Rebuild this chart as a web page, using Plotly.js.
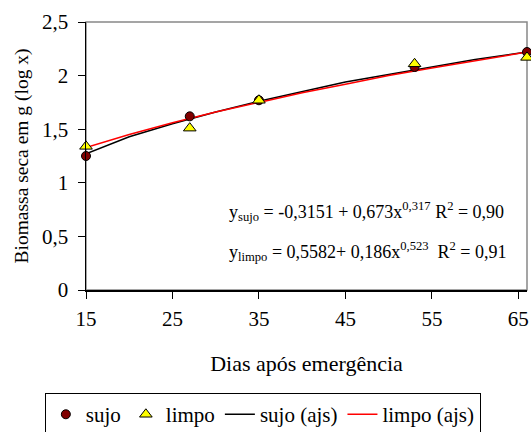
<!DOCTYPE html>
<html>
<head>
<meta charset="utf-8">
<script src="https://cdn.plot.ly/plotly-3.0.1.min.js"></script>
<style>
html,body{margin:0;padding:0;background:#fff;}
#chart{width:531px;height:432px;}
</style>
</head>
<body>
<div id="chart"></div>
<script>
// Observed points
var diasObs = [15, 27, 35, 53, 66];
var sujoObs = [1.25, 1.62, 1.77, 2.08, 2.22];
var limpoObs = [1.34, 1.51, 1.77, 2.11, 2.17];

// Fitted curves
var diasAjs = [15, 20, 25, 30, 35, 40, 45, 50, 55, 60, 66];
var sujoAjs = [1.27, 1.43, 1.55, 1.66, 1.76, 1.85, 1.94, 2.01, 2.08, 2.15, 2.22];
var limpoAjs = [1.33, 1.45, 1.56, 1.66, 1.75, 1.84, 1.92, 2.00, 2.07, 2.14, 2.22];

var yTicks = [0, 0.5, 1, 1.5, 2, 2.5];
var yTickText = ["0", "0,5", "1", "1,5", "2", "2,5"];
var xTicks = [15, 25, 35, 45, 55, 65];

var eqSujo = "y<sub>sujo</sub> = -0,3151 + 0,673x<sup>0,317</sup> R<sup>2</sup> = 0,90";
var eqLimpo = "y<sub>limpo</sub> = 0,5582+ 0,186x<sup>0,523</sup>  R<sup>2</sup> = 0,91";

var FONT = "Liberation Serif";
var FS = 21;

var traces = [
  {x: diasAjs, y: sujoAjs, name: "sujo (ajs)", mode: "lines", type: "scatter", legendrank: 3,
   line: {color: "#000000", width: 1.5}},
  {x: diasAjs, y: limpoAjs, name: "limpo (ajs)", mode: "lines", type: "scatter", legendrank: 4,
   line: {color: "#FF0000", width: 1.5}},
  {x: diasObs, y: sujoObs, name: "sujo", mode: "markers", type: "scatter", legendrank: 1,
   marker: {symbol: "circle", size: 9, color: "#800000", line: {color: "#000", width: 1}},
   cliponaxis: false},
  {x: diasObs, y: limpoObs, name: "limpo", mode: "markers", type: "scatter", legendrank: 2,
   marker: {symbol: "triangle-up", size: 11, color: "#FFFF00", line: {color: "#000", width: 1}},
   cliponaxis: false}
];

var layout = {
  width: 531, height: 432,
  margin: {l: 86, r: 4, t: 22, b: 142, autoexpand: false},
  paper_bgcolor: "#fff", plot_bgcolor: "#fff",
  font: {family: FONT, size: FS, color: "#000"},
  separators: ",.",
  showlegend: true,
  legend: {
    orientation: "h", xref: "container", yref: "container",
    x: 0.495, xanchor: "center", y: 0.09, yanchor: "top",
    bordercolor: "#000", borderwidth: 1, bgcolor: "#fff",
    font: {family: FONT, size: FS},
    traceorder: "normal", itemwidth: 30
  },
  xaxis: {
    range: [15, 66], tickvals: xTicks, ticktext: xTicks.map(String),
    showgrid: false, zeroline: false,
    showline: true, linecolor: "#000", linewidth: 1.5,
    ticks: "outside", ticklen: 7, tickcolor: "#000",
    ticklabelstandoff: 2,
    tickfont: {family: FONT, size: FS},
    title: {text: "Dias após emergência", font: {family: FONT, size: 22}, standoff: 26},
    automargin: false
  },
  yaxis: {
    range: [0, 2.5], tickvals: yTicks, ticktext: yTickText,
    showgrid: false, zeroline: false,
    showline: true, linecolor: "#000", linewidth: 1.5,
    ticks: "outside", ticklen: 7, tickcolor: "#000",
    ticklabelstandoff: 5,
    tickfont: {family: FONT, size: FS},
    title: {text: "Biomassa seca em g (log x)", font: {family: FONT, size: 19.5}, standoff: 8},
    automargin: false
  },
  shapes: [{type: "rect", xref: "paper", yref: "paper", x0: 0, x1: 1, y0: 0, y1: 1,
            line: {color: "#888", width: 1.5}, layer: "below"}],
  annotations: [
    {xref: "paper", yref: "paper", x: 0.32, y: 0.292, xanchor: "left", yanchor: "middle",
     text: eqSujo, showarrow: false, font: {family: FONT, size: 18}},
    {xref: "paper", yref: "paper", x: 0.32, y: 0.142, xanchor: "left", yanchor: "middle",
     text: eqLimpo, showarrow: false, font: {family: FONT, size: 18}}
  ]
};

Plotly.newPlot("chart", traces, layout, {displayModeBar: false, staticPlot: true});
</script>
</body>
</html>
